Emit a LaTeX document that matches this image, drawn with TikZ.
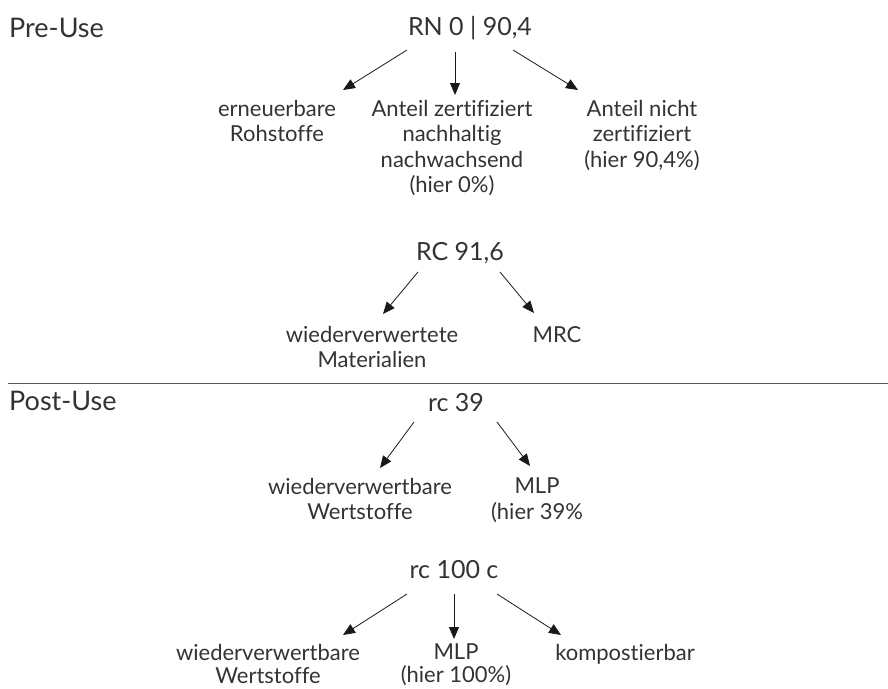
\documentclass[tikz,border=0pt]{standalone}
\usepackage{fontspec}
\setmainfont{Lato}[Ligatures=NoCommon]
\usetikzlibrary{arrows.meta}

\begin{document}
\begin{tikzpicture}
    [
  x=1pt, y=-1pt,
  phase/.style={
    font=\fontsize{27}{32}\selectfont,
    text=black!80,
    inner sep=0pt,
    anchor=base west
  },
  title/.style={
    font=\fontsize{25}{30}\selectfont,
    text=black!80,
    inner sep=0pt,
    anchor=base
  },
  leaf/.style={
    font=\fontsize{22}{25.5}\selectfont,
    text=black!80,
    inner sep=0pt,
    align=center,
    anchor=north
  },
  lowleaf/.style={
    leaf,
    font=\fontsize{22}{23}\selectfont
  },
  arr/.style={
    -{Triangle[length=12pt,width=10pt]},
    line width=0.8pt,
    black!90
  }
  ]
  \useasboundingbox (0,0) rectangle (888,688);

  % pre-use
  \node (pre) at (9,37) [phase] {Pre-Use};
  \node (rn) at (470,35) [title] {RN 0 | 90,4};
  \node (ern) at (277,100) [leaf] {erneuerbare\\Rohstoffe};
  \node (zert) at (452,100) [leaf] {Anteil zertifiziert\\nachhaltig\\nachwachsend\\(hier 0\%)};
  \node (nicht) at (642,100) [leaf] {Anteil nicht\\zertifiziert\\(hier 90,4\%)};
  \draw [arr] ([shift={(-63,15)}]rn.base) -- ([shift={(66,-10)}]ern.north);
  \draw [arr] ([shift={(-15,17)}]rn.base) -- ([shift={(3,-5)}]zert.north);
  \draw [arr] ([shift={(43,15)}]rn.base) -- ([shift={(-64,-10)}]nicht.north);

  \node (rc) at (460,260) [title] {RC 91,6};
  \node (wv) at (372,326) [leaf] {wiederverwertete\\Materialien};
  \node (mrc) at (557,326) [leaf] {MRC};
  \draw [arr] ([shift={(-42,12)}]rc.base) -- ([shift={(11,-12)}]wv.north);
  \draw [arr] ([shift={(40,12)}]rc.base) -- ([shift={(-23,-13)}]mrc.north);

  % separator
  \draw [black!65, line width=1pt] (8,383) -- (888,383);

  % post-use
  \node (post) at (9,410) [phase] {Post-Use};
  \node (rca) at (456,411) [title] {rc 39};
  \node (wba) at (360,478) [leaf] {wiederverwertbare\\Wertstoffe};
  \node (mlpa) at (537,478) [leaf] {MLP\\(hier 39\%};
  \draw [arr] ([shift={(-42,11)}]rca.base) -- ([shift={(20,-10)}]wba.north);
  \draw [arr] ([shift={(41,11)}]rca.base) -- ([shift={(-7,-12)}]mlpa.north);

  \node (rcb) at (454,578) [title] {rc 100 c};
  \node (wbb) at (268,644) [lowleaf] {wiederverwertbare\\Wertstoffe};
  \node (mlpb) at (456,644) [lowleaf] {MLP\\(hier 100\%)};
  \node (komp) at (625,644) [lowleaf] {kompostierbar};
  \draw [arr] ([shift={(-47,16)}]rcb.base) -- ([shift={(75,-9)}]wbb.north);
  \draw [arr] ([shift={(0,16)}]rcb.base) -- ([shift={(-2,-5)}]mlpb.north);
  \draw [arr] ([shift={(43,16)}]rcb.base) -- ([shift={(-64,-9)}]komp.north);
\end{tikzpicture}
\end{document}
